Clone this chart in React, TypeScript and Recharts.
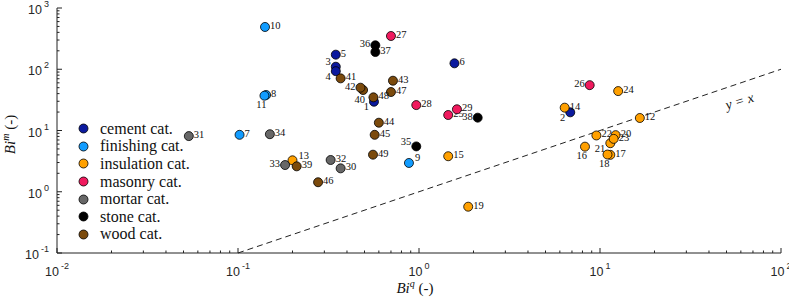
import { Label, Legend, ReferenceDot, ReferenceLine, Scatter, ScatterChart, XAxis, YAxis } from 'recharts'

type Pt = { id: number; x: number; y: number }

const CEMENT: Pt[] = [
  { id: 1, x: 0.564, y: 29.5 },
  { id: 2, x: 6.85, y: 19.8 },
  { id: 3, x: 0.347, y: 110 },
  { id: 4, x: 0.347, y: 93 },
  { id: 5, x: 0.347, y: 173 },
  { id: 6, x: 1.57, y: 125 },
]
const FINISHING: Pt[] = [
  { id: 7, x: 0.102, y: 8.5 },
  { id: 8, x: 0.143, y: 38 },
  { id: 9, x: 0.88, y: 2.95 },
  { id: 10, x: 0.141, y: 490 },
  { id: 11, x: 0.14, y: 37 },
]
const INSULATION: Pt[] = [
  { id: 12, x: 16.6, y: 16 },
  { id: 13, x: 0.2, y: 3.26 },
  { id: 14, x: 6.38, y: 23.6 },
  { id: 15, x: 1.45, y: 3.8 },
  { id: 16, x: 8.26, y: 5.45 },
  { id: 17, x: 11.4, y: 4.0 },
  { id: 18, x: 11.0, y: 4.05 },
  { id: 19, x: 1.87, y: 0.57 },
  { id: 20, x: 12.2, y: 8.4 },
  { id: 21, x: 11.4, y: 6.2 },
  { id: 22, x: 9.55, y: 8.3 },
  { id: 23, x: 11.9, y: 7.3 },
  { id: 24, x: 12.6, y: 44 },
]
const MASONRY: Pt[] = [
  { id: 25, x: 1.45, y: 17.9 },
  { id: 26, x: 8.77, y: 55 },
  { id: 27, x: 0.7, y: 349 },
  { id: 28, x: 0.966, y: 26 },
  { id: 29, x: 1.62, y: 22.2 },
]
const MORTAR: Pt[] = [
  { id: 30, x: 0.369, y: 2.41 },
  { id: 31, x: 0.0535, y: 8.1 },
  { id: 32, x: 0.325, y: 3.3 },
  { id: 33, x: 0.182, y: 2.73 },
  { id: 34, x: 0.15, y: 8.7 },
]
const STONE: Pt[] = [
  { id: 35, x: 0.966, y: 5.5 },
  { id: 36, x: 0.574, y: 246 },
  { id: 37, x: 0.574, y: 191 },
  { id: 38, x: 2.11, y: 16.2 },
]
const WOOD: Pt[] = [
  { id: 39, x: 0.211, y: 2.6 },
  { id: 40, x: 0.491, y: 45.8 },
  { id: 41, x: 0.369, y: 71 },
  { id: 42, x: 0.475, y: 50 },
  { id: 43, x: 0.718, y: 65 },
  { id: 44, x: 0.6, y: 13.4 },
  { id: 45, x: 0.569, y: 8.5 },
  { id: 46, x: 0.277, y: 1.43 },
  { id: 47, x: 0.7, y: 42.5 },
  { id: 48, x: 0.56, y: 34.8 },
  { id: 49, x: 0.557, y: 4.03 },
]

const X_MAJOR = [0.01, 0.1, 1, 10, 100]
const Y_MAJOR = [0.1, 1, 10, 100, 1000]
const IDENTITY_LINE = [
  { x: 0.1, y: 0.1 },
  { x: 100, y: 100 },
]

const SERIES = [
  { name: 'cement cat.', data: CEMENT, color: '#0b1a9e' },
  { name: 'finishing cat.', data: FINISHING, color: '#119cff' },
  { name: 'insulation cat.', data: INSULATION, color: '#ffa000' },
  { name: 'masonry cat.', data: MASONRY, color: '#f01a5e' },
  { name: 'mortar cat.', data: MORTAR, color: '#676767' },
  { name: 'stone cat.', data: STONE, color: '#000000' },
  { name: 'wood cat.', data: WOOD, color: '#7b4a0c' },
]

// where each point's number sits relative to its marker (default: right)
const LABEL_SIDE: Record<number, string> = {
  1: 'll', 2: 'll', 3: 'ul', 4: 'll', 9: 'ur', 11: 'bl', 13: 'ur', 16: 'bl', 18: 'bl',
  21: 'll', 26: 'l', 33: 'l', 35: 'ul', 36: 'l', 38: 'l', 40: 'bl', 42: 'l',
}
const LABEL_OFFSET: Record<string, { dx: number; dy: number; anchor: 'start' | 'end' | 'middle' }> = {
  r: { dx: 5, dy: -1.5, anchor: 'start' },
  l: { dx: -5, dy: -1.5, anchor: 'end' },
  ul: { dx: -5, dy: -5, anchor: 'end' },
  ll: { dx: -5, dy: 5, anchor: 'end' },
  ur: { dx: 6, dy: -5, anchor: 'start' },
  bl: { dx: 2, dy: 9, anchor: 'end' },
}

const AXIS_COLOUR = '#222'
const SANS = '"Liberation Sans", Arial, sans-serif'
const SERIF = '"Liberation Serif", "DejaVu Serif", serif'

function minorTicks(majors: number[]) {
  const out: number[] = []
  majors.forEach((m, i) => {
    out.push(m)
    if (i < majors.length - 1) for (let k = 2; k <= 9; k++) out.push(+(m * k).toPrecision(6))
  })
  return out
}
const X_TICKS = minorTicks(X_MAJOR)
const Y_TICKS = minorTicks(Y_MAJOR)

const isMajor = (v: number) => Math.abs(Math.log10(v) - Math.round(Math.log10(v))) < 1e-6
const tickLen = (v: number) => (isMajor(v) ? 5 : 2.5)

function PowerLabel({ x, y, v, anchor }: { x: number; y: number; v: number; anchor: 'middle' | 'end' }) {
  return (
    <text x={x} y={y} textAnchor={anchor} fontFamily={SANS} fontSize={12.5} fill="#262626">
      <tspan>10</tspan>
      <tspan dx={2} dy={-7} fontSize={9}>
        {Math.round(Math.log10(v))}
      </tspan>
    </text>
  )
}

function BottomTick({ x, y, payload }: any) {
  const v = payload.value
  return (
    <g>
      <line x1={x} y1={y} x2={x} y2={y - tickLen(v)} stroke={AXIS_COLOUR} />
      {isMajor(v) && <PowerLabel x={x} y={y + 23} v={v} anchor="middle" />}
    </g>
  )
}

function TopTick({ x, y, payload }: any) {
  return <line x1={x} y1={y} x2={x} y2={y + tickLen(payload.value)} stroke={AXIS_COLOUR} />
}

function LeftTick({ x, y, payload }: any) {
  const v = payload.value
  return (
    <g>
      <line x1={x} y1={y} x2={x + tickLen(v)} y2={y} stroke={AXIS_COLOUR} />
      {isMajor(v) && <PowerLabel x={x - 8} y={y + 6} v={v} anchor="end" />}
    </g>
  )
}

function RightTick({ x, y, payload }: any) {
  return <line x1={x} y1={y} x2={x - tickLen(payload.value)} y2={y} stroke={AXIS_COLOUR} />
}

function makeDot(color: string) {
  return (props: any) => {
    const { cx, cy, payload } = props
    const off = LABEL_OFFSET[LABEL_SIDE[payload.id] ?? 'r']
    return (
      <g>
        <circle cx={cx} cy={cy} r={4.5} fill={color} stroke="#000" strokeWidth={0.8} />
        <text
          x={cx + off.dx}
          y={cy + off.dy}
          textAnchor={off.anchor}
          dominantBaseline="central"
          fontFamily={SERIF}
          fontSize={10.5}
          fill="#111"
        >
          {payload.id}
        </text>
      </g>
    )
  }
}

function XTitle({ viewBox }: any) {
  const { x, y, width } = viewBox
  return (
    <text x={x + width / 2 - 4} y={y + 40} textAnchor="middle" fontFamily={SERIF} fontSize={15} fill="#111">
      <tspan fontStyle="italic">Bi</tspan>
      <tspan fontStyle="italic" fontSize={10} dy={-6}>q</tspan>
      <tspan dy={6}> (-)</tspan>
    </text>
  )
}

function YTitle({ viewBox }: any) {
  const { x, y, height } = viewBox
  const cx = x + 15
  const cy = y + height / 2 + 4
  return (
    <text
      x={cx}
      y={cy}
      transform={`rotate(-90 ${cx} ${cy})`}
      textAnchor="middle"
      fontFamily={SERIF}
      fontSize={15}
      fill="#111"
    >
      <tspan fontStyle="italic">Bi</tspan>
      <tspan fontStyle="italic" fontSize={10} dy={-6}>m</tspan>
      <tspan dy={6}> (-)</tspan>
    </text>
  )
}

function IdentityText({ viewBox }: any) {
  const cx = viewBox.x + (viewBox.width || 0) / 2
  const cy = viewBox.y + (viewBox.height || 0) / 2
  return (
    <text
      x={cx}
      y={cy}
      transform={`rotate(-17 ${cx} ${cy})`}
      textAnchor="middle"
      dominantBaseline="central"
      fontFamily={SERIF}
      fontStyle="italic"
      fontSize={14}
      fill="#111"
    >
      y = x
    </text>
  )
}

function LegendBox() {
  return (
    <div style={{ fontFamily: SERIF, fontSize: 16, color: '#111' }}>
      {SERIES.map((s) => (
        <div key={s.name} style={{ display: 'flex', alignItems: 'center', height: 17.6 }}>
          <svg width={11} height={11} style={{ flex: 'none' }}>
            <circle cx={5.5} cy={5.5} r={4.5} fill={s.color} stroke="#000" strokeWidth={0.8} />
          </svg>
          <span style={{ marginLeft: 11, whiteSpace: 'nowrap' }}>{s.name}</span>
        </div>
      ))}
    </div>
  )
}

export default function App() {
  return (
    <div style={{ position: 'absolute', left: 0, top: 0, background: '#fff' }}>
      <ScatterChart width={789} height={300} margin={{ top: 8, right: 8, bottom: 0, left: 0 }}>
        <XAxis
          xAxisId="x"
          dataKey="x"
          type="number"
          scale="log"
          domain={[0.01, 100]}
          allowDataOverflow
          ticks={X_TICKS}
          interval={0}
          tickSize={0}
          tickMargin={0}
          tickLine={false}
          tick={BottomTick}
          height={47}
          stroke={AXIS_COLOUR}
        >
          <Label content={XTitle} />
        </XAxis>
        <XAxis
          xAxisId="top"
          orientation="top"
          type="number"
          scale="log"
          domain={[0.01, 100]}
          allowDataOverflow
          ticks={X_TICKS}
          interval={0}
          tickSize={0}
          tickMargin={0}
          tickLine={false}
          tick={TopTick}
          height={0}
          stroke={AXIS_COLOUR}
        />
        <YAxis
          yAxisId="y"
          dataKey="y"
          type="number"
          scale="log"
          domain={[0.1, 1000]}
          allowDataOverflow
          ticks={Y_TICKS}
          interval={0}
          tickSize={0}
          tickMargin={0}
          tickLine={false}
          tick={LeftTick}
          width={57}
          stroke={AXIS_COLOUR}
        >
          <Label content={YTitle} />
        </YAxis>
        <YAxis
          yAxisId="right"
          orientation="right"
          type="number"
          scale="log"
          domain={[0.1, 1000]}
          allowDataOverflow
          ticks={Y_TICKS}
          interval={0}
          tickSize={0}
          tickMargin={0}
          tickLine={false}
          tick={RightTick}
          width={0}
          stroke={AXIS_COLOUR}
        />
        <ReferenceLine
          xAxisId="x"
          yAxisId="y"
          segment={IDENTITY_LINE}
          stroke="#222"
          strokeWidth={1}
          strokeDasharray="6 4"
        />
        <ReferenceDot xAxisId="x" yAxisId="y" x={59} y={30} r={0} fill="none" stroke="none" label={IdentityText} />
        {SERIES.map((s) => (
          <Scatter
            key={s.name}
            name={s.name}
            xAxisId="x"
            yAxisId="y"
            data={s.data}
            fill={s.color}
            shape={makeDot(s.color)}
            isAnimationActive={false}
          />
        ))}
        <Legend
          layout="vertical"
          align="center"
          verticalAlign="middle"
          content={LegendBox}
          wrapperStyle={{ left: 78, top: 120, width: 'auto' }}
        />
      </ScatterChart>
    </div>
  )
}
